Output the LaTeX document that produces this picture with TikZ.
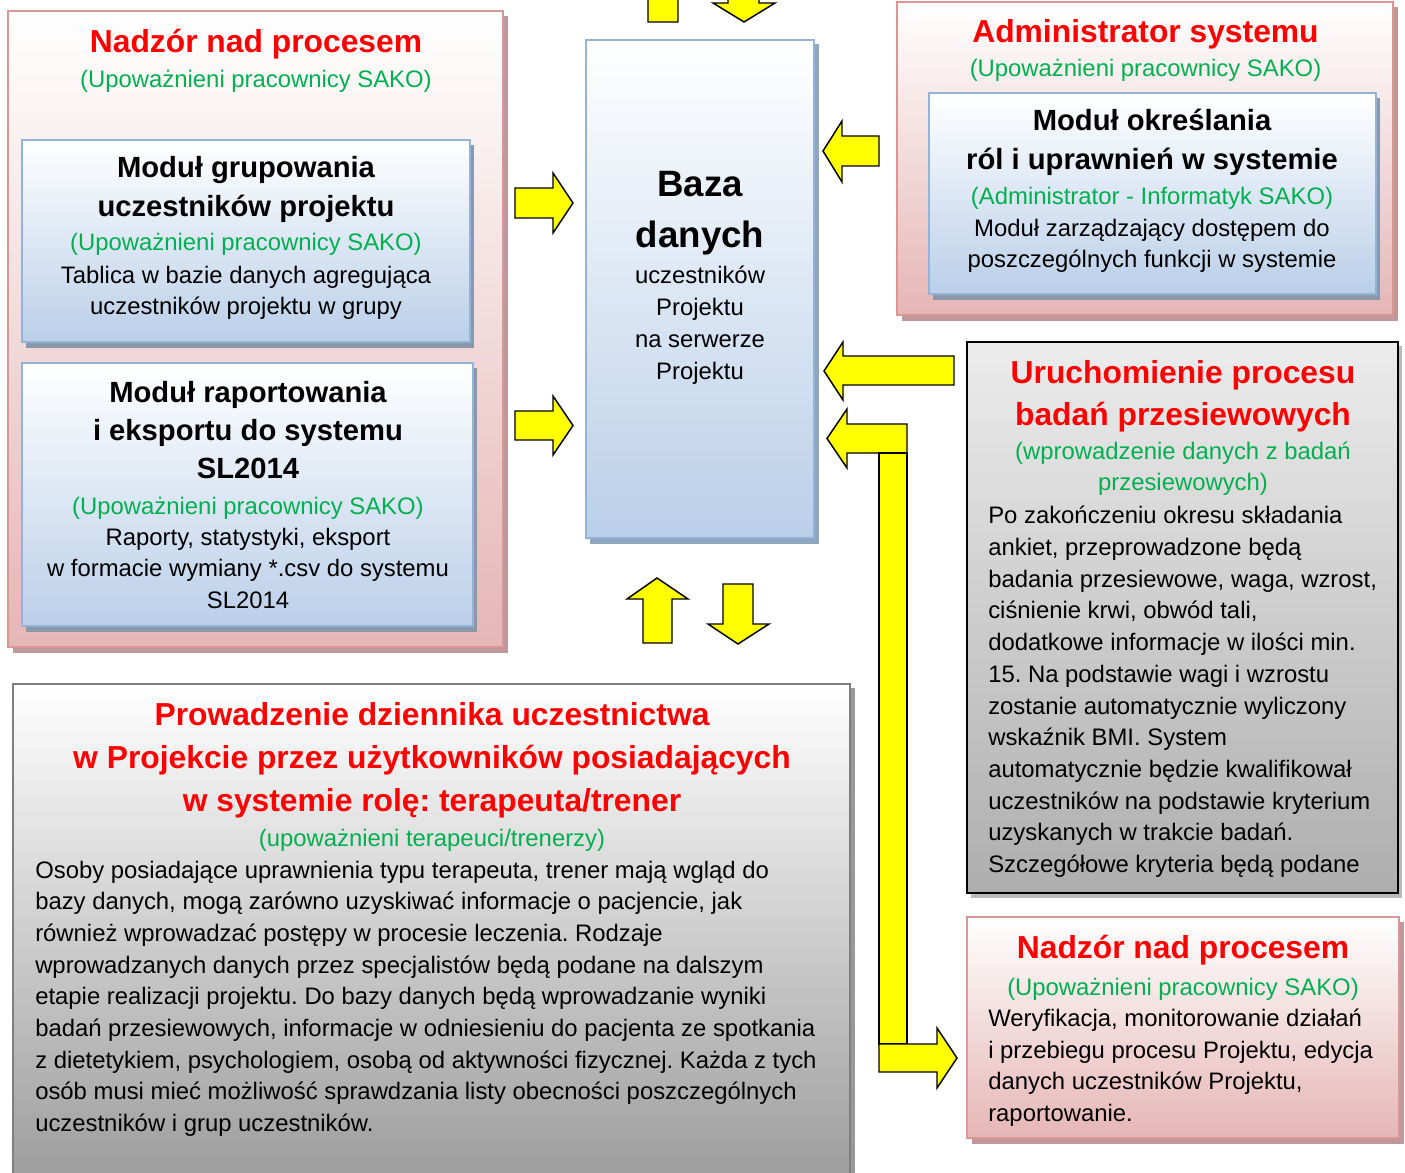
\documentclass[tikz,border=0pt]{standalone}
\usepackage{fontspec}
\setmainfont{Liberation Sans}
\usetikzlibrary{fit}
\definecolor{sakogreen}{RGB}{0,176,80}
\definecolor{sakored}{RGB}{255,0,0}
\definecolor{pinkline}{RGB}{217,150,148}
\definecolor{pinkbot}{RGB}{229,182,181}
\definecolor{pinksh}{RGB}{192,152,154}
\definecolor{blueline}{RGB}{149,179,215}
\definecolor{bluebot}{RGB}{186,207,233}
\definecolor{bluesh}{RGB}{139,151,171}
\definecolor{bazash}{RGB}{143,165,192}
\definecolor{greytop}{RGB}{236,236,236}
\definecolor{greybot}{RGB}{174,174,174}
\definecolor{greyline}{RGB}{127,127,127}
\definecolor{arrowyellow}{RGB}{255,255,0}
\newcommand\fTitle{\fontsize{23.85}{28}\selectfont\bfseries}
\newcommand\fMod{\fontsize{21.9}{26}\selectfont\bfseries}
\newcommand\fBaza{\fontsize{27.5}{32}\selectfont\bfseries}
\newcommand\fBody{\fontsize{17.9}{21}\selectfont}
\frenchspacing
\begin{document}
\frenchspacing
\begin{tikzpicture}[x=0.75pt,y=-0.75pt,
  pinkbox/.style={rectangle,inner sep=0pt,draw=pinkline,line width=1.5pt,top color=white,bottom color=pinkbot},
  bluebox/.style={rectangle,inner sep=0pt,draw=blueline,line width=1.5pt,top color=white,bottom color=bluebot},
  greybox/.style={rectangle,inner sep=0pt,draw=black,line width=1.5pt,top color=greytop,bottom color=greybot},
  prowbox/.style={rectangle,inner sep=0pt,draw=greyline,line width=1.8pt,top color=white,bottom color=black!40},
  blockarrow/.style={fill=arrowyellow,draw=black,line width=1.1pt,line join=miter},
  ttl/.style={anchor=base,inner sep=0pt,font=\fTitle,text=sakored},
  grn/.style={anchor=base,inner sep=0pt,font=\fBody,text=sakogreen},
  modt/.style={anchor=base,inner sep=0pt,font=\fMod},
  bazat/.style={anchor=base,inner sep=0pt,font=\fBaza},
  bodyc/.style={anchor=base,inner sep=0pt,font=\fBody},
  bodyl/.style={anchor=base west,inner sep=0pt,font=\fBody}]
\useasboundingbox (0,0) rectangle (1405,1173);
\clip (0,0) rectangle (1405,1173);
\fill[white] (0,0) rectangle (1405,1173);

% ---------- shadows ----------
\fill[pinksh] (13,16) rectangle (508,653);
\fill[pinksh] (902,7) rectangle (1398,321);
\fill[pinksh] (972,922) rectangle (1404,1144);
\fill[bazash] (590,44) rectangle (819,544);
\fill[black!45,opacity=.6] (971,346) rectangle (1402,898);
\fill[black!40] (17,688) rectangle (855,1200);

% ---------- boxes ----------
\node[pinkbox,fit={(8,11) (503,647)}] (nadzorA) {};
\node[pinkbox,fit={(897,2) (1393,315)}] (admin) {};
\node[pinkbox,fit={(967,917) (1399,1138)}] (nadzorB) {};
\fill[bluesh] (26,145) rectangle (474,348);
\node[bluebox,fit={(22,140) (470,342)}] (grup) {};
\fill[bluesh] (26,368) rectangle (477,632);
\node[bluebox,fit={(22,363) (473,626)}] (rap) {};
\fill[bluesh] (933,98) rectangle (1380,300);
\node[bluebox,fit={(929,93) (1376,294)}] (okr) {};
\node[bluebox,fit={(586,40) (814,538)}] (baza) {};
\node[greybox,fit={(967,342) (1398,893)}] (uruch) {};
\node[prowbox,fit={(13,684) (850,1200)}] (prow) {};

% ---------- block arrows ----------
\draw[blockarrow] (648,22) -- (648,-10) -- (632,-10) -- (663,-31) -- (694,-10) -- (678,-10) -- (678,22) -- cycle;
\draw[blockarrow] (728,-40) -- (759,-40) -- (759,3) -- (775,3) -- (744,22) -- (713,3) -- (728,3) -- cycle;
\draw[blockarrow] (515,188) -- (553,188) -- (553,173) -- (573,203) -- (553,233) -- (553,218) -- (515,218) -- cycle;
\draw[blockarrow] (515,411) -- (553,411) -- (553,396) -- (573,425.5) -- (553,455) -- (553,440) -- (515,440) -- cycle;
\draw[blockarrow] (879,136) -- (842,136) -- (842,121) -- (823,151) -- (842,182) -- (842,166) -- (879,166) -- cycle;
\draw[blockarrow] (954,356) -- (843,356) -- (843,342) -- (824,371) -- (843,400) -- (843,385) -- (954,385) -- cycle;
\draw[blockarrow] (907,424) -- (847,424) -- (847,409) -- (827,438.5) -- (847,468) -- (847,453) -- (907,453) -- cycle;
\draw[blockarrow] (879,453) rectangle (907,1044);
\draw[blockarrow] (879,1044) -- (937,1044) -- (937,1028) -- (957,1058) -- (937,1088) -- (937,1072) -- (879,1072) -- cycle;
\draw[blockarrow] (643,643) -- (643,599) -- (627,599) -- (657,578) -- (688,599) -- (672,599) -- (672,643) -- cycle;
\draw[blockarrow] (723,584) -- (753,584) -- (753,624) -- (769,624) -- (738,644) -- (708,624) -- (723,624) -- cycle;

% ---------- texts: Nadzor (top left) ----------
\node[ttl] (n1t) at (256,53) {Nadzór nad procesem};
\node[grn] (n1g) at (256,88) {(Upoważnieni pracownicy SAKO)};
\node[modt] (g1) at (246,178) {Moduł grupowania};
\node[modt] (g2) at (246,217) {uczestników projektu};
\node[grn] (g3) at (246,251) {(Upoważnieni pracownicy SAKO)};
\node[bodyc] (g4) at (246,283.5) {Tablica w bazie danych agregująca};
\node[bodyc] (g5) at (246,314.5) {uczestników projektu w grupy};
\node[modt] (r1) at (248,402.5) {Moduł raportowania};
\node[modt] (r2) at (248,440.5) {i eksportu do systemu};
\node[modt] (r3) at (248,478.5) {SL2014};
\node[grn] (r4) at (248,514) {(Upoważnieni pracownicy SAKO)};
\node[bodyc] (r5) at (248,545) {Raporty, statystyki, eksport};
\node[bodyc] (r6) at (248,576.5) {w formacie wymiany *.csv do systemu};
\node[bodyc] (r7) at (248,608.5) {SL2014};

% ---------- Baza ----------
\node[bazat] (b1) at (700,197) {Baza};
\node[bazat] (b2) at (700,247.5) {danych};
\node[bodyc] (b3) at (700,283.5) {uczestników};
\node[bodyc] (b4) at (700,315.5) {Projektu};
\node[bodyc] (b5) at (700,347.5) {na serwerze};
\node[bodyc] (b6) at (700,379) {Projektu};

% ---------- Administrator ----------
\node[ttl] (a1) at (1145.5,43) {Administrator systemu};
\node[grn] (a2) at (1145.5,76.5) {(Upoważnieni pracownicy SAKO)};
\node[modt] (o1) at (1152,131) {Moduł określania};
\node[modt] (o2) at (1152,169.5) {ról i uprawnień w systemie};
\node[grn] (o3) at (1152,204.5) {(Administrator - Informatyk SAKO)};
\node[bodyc] (o4) at (1152,236.5) {Moduł zarządzający dostępem do};
\node[bodyc] (o5) at (1152,267.5) {poszczególnych funkcji w systemie};

% ---------- Uruchomienie ----------
\node[ttl] (u1) at (1183,383.5) {Uruchomienie procesu};
\node[ttl] (u2) at (1183,425) {badań przesiewowych};
\node[grn] (u3) at (1183,459) {(wprowadzenie danych z badań};
\node[grn] (u4) at (1183,490.5) {przesiewowych)};
\foreach \t [count=\i] in {{Po zakończeniu okresu składania},
  {ankiet, przeprowadzone będą},
  {badania przesiewowe, waga, wzrost,},
  {ciśnienie krwi, obwód tali,},
  {dodatkowe informacje w ilości min.},
  {15. Na podstawie wagi i wzrostu},
  {zostanie automatycznie wyliczony},
  {wskaźnik BMI. System},
  {automatycznie będzie kwalifikował},
  {uczestników na podstawie kryterium},
  {uzyskanych w trakcie badań.},
  {Szczegółowe kryteria będą podane}}
  \node[bodyl] (ub\i) at (988,{523.8+31.7*(\i-1)}) {\t};

% ---------- Nadzor (bottom right) ----------
\node[ttl] (m1) at (1183,958.5) {Nadzór nad procesem};
\node[grn] (m2) at (1183,995) {(Upoważnieni pracownicy SAKO)};
\foreach \t [count=\i] in {{Weryfikacja, monitorowanie działań},
  {i przebiegu procesu Projektu, edycja},
  {danych uczestników Projektu,},
  {raportowanie.}}
  \node[bodyl] (mb\i) at (988,{1026.5+31.5*(\i-1)}) {\t};

% ---------- Prowadzenie ----------
\node[ttl] (p1) at (432,725.5) {Prowadzenie dziennika uczestnictwa};
\node[ttl] (p2) at (432,768.5) {w Projekcie przez użytkowników posiadających};
\node[ttl] (p3) at (432,811.5) {w systemie rolę: terapeuta/trener};
\node[grn] (p4) at (432,846.5) {(upoważnieni terapeuci/trenerzy)};
\foreach \t [count=\i] in {{Osoby posiadające uprawnienia typu terapeuta, trener mają wgląd do},
  {bazy danych, mogą zarówno uzyskiwać informacje o pacjencie, jak},
  {również wprowadzać postępy w procesie leczenia. Rodzaje},
  {wprowadzanych danych przez specjalistów będą podane na dalszym},
  {etapie realizacji projektu. Do bazy danych będą wprowadzanie wyniki},
  {badań przesiewowych, informacje w odniesieniu do pacjenta ze spotkania},
  {z dietetykiem, psychologiem, osobą od aktywności fizycznej. Każda z tych},
  {osób musi mieć możliwość sprawdzania listy obecności poszczególnych},
  {uczestników i grup uczestników.}}
  \node[bodyl] (pb\i) at (35,{878+31.7*(\i-1)}) {\t};
\end{tikzpicture}
\end{document}
